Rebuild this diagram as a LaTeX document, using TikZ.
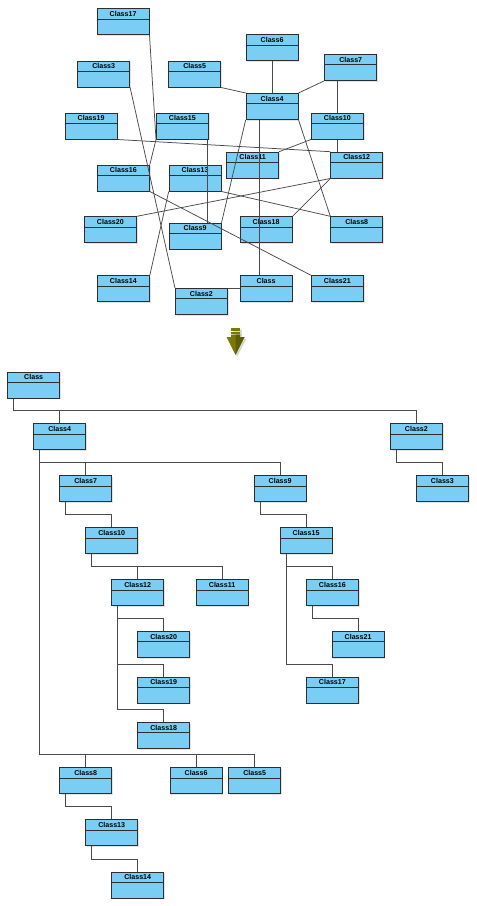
\documentclass[tikz,border=0pt]{standalone}
\usepackage{fontspec}
\setmainfont{Liberation Sans}
\usetikzlibrary{calc,shadows}
\definecolor{boxfill}{HTML}{7ACEF4}
\definecolor{boxdraw}{HTML}{2E2E2E}
\definecolor{connc}{HTML}{4A4A4A}
\definecolor{arrowc}{HTML}{7A7A00}
\definecolor{arrowdk}{HTML}{5E5E00}
\tikzset{
  clsbox/.style={draw=boxdraw, fill=boxfill, line width=0.8pt, minimum width=52pt,
    minimum height=26pt, inner sep=0pt, anchor=north west,
    drop shadow={shadow xshift=1.2pt, shadow yshift=-1.2pt, opacity=0.22}},
  clstitle/.style={font=\bfseries\fontsize{7.1}{7.5}\selectfont, inner sep=0pt, anchor=base},
  hdrline/.style={draw=boxdraw, line width=0.8pt},
  conn/.style={draw=connc, line width=0.75pt},
}
\newcommand\umlbox[4]{%
  \node[clsbox] (#1) at (#2,#3) {};
  \draw[hdrline] ([yshift=-10.6pt]#1.north west) -- ([yshift=-10.6pt]#1.north east);
  \node[clstitle] (#1t) at ([yshift=-8pt]#1.north) {#4};
}
\newcommand\treeedge[2]{%
  \draw[conn] ([xshift=6.5pt]#1.south west) |- ([yshift=12.6pt]#2.north) -- (#2.north);
}
\begin{document}
\begin{tikzpicture}[x=1pt,y=-1pt]
\useasboundingbox (0,0) rectangle (477,906);
% ---------- top: unordered graph ----------
\umlbox{g17}{96.7}{8.3}{Class17}
\umlbox{g6}{245.7}{34.3}{Class6}
\umlbox{g3}{77.3}{60.7}{Class3}
\umlbox{g5}{168.3}{60.7}{Class5}
\umlbox{g7}{324.3}{54}{Class7}
\umlbox{g4}{245.7}{93}{Class4}
\umlbox{g19}{64.7}{112.7}{Class19}
\umlbox{g15}{156}{112.7}{Class15}
\umlbox{g10}{311}{112.7}{Class10}
\umlbox{g11}{226.3}{151.7}{Class11}
\umlbox{g12}{330.3}{151.7}{Class12}
\umlbox{g16}{97}{164.7}{Class16}
\umlbox{g13}{168.7}{164.7}{Class13}
\umlbox{g20}{84}{216.3}{Class20}
\umlbox{g9}{168.7}{222.7}{Class9}
\umlbox{g18}{239.7}{216.3}{Class18}
\umlbox{g8}{330.3}{216.3}{Class8}
\umlbox{g14}{97}{275.3}{Class14}
\umlbox{g0}{239.7}{275.3}{Class}
\umlbox{g21}{311}{275.3}{Class21}
\umlbox{g2}{175}{288}{Class2}
% connectors
\draw[conn] ([xshift=13.3pt]g4.south west) -- ([xshift=19.3pt]g0.north west);
\draw[conn] (g2.north east) -- (g0.west |- g2.north);
\draw[conn] (g5.south east) -- (g4.north west);
\draw[conn] (g6.south) -- (g4.north);
\draw[conn] (g7.south west) -- (g4.north east);
\draw[conn] (g4.south west) -- (g9.north east);
\draw[conn] (g4.south east) -- (g8.north west);
\draw[conn] (g10.north |- g7.south) -- (g10.north);
\draw[conn] (g10.south) -- (g10.south |- g12.north);
\draw[conn] (g10.south west) -- (g11.north east);
\draw[conn] (g19.south east) -- (g12.north west);
\draw[conn] (g12.south west) -- (g20.north east);
\draw[conn] (g12.south west) -- (g18.north east);
\draw[conn] (g13.south east) -- (g8.north west);
\draw[conn] (g14.north east) -- (g13.south west);
\draw[conn] (g16.south east) -- (g21.north west);
\draw[conn] (g3.south east) -- (g2.north west);
\draw[conn] ([xshift=-1pt]g15.south east) -- ([xshift=-1pt]g15.south east |- g9.north);
\draw[conn] (g17.south east) -- (g15.south west);
\draw[conn] (g15.south west) -- (g16.north east);
% ---------- arrow ----------
\begin{scope}[shift={(1.8,1.8)}]
  \fill[black!16] (231,328.4) rectangle (240,330.7);
  \fill[black!16] (231,331.6) rectangle (240,333.8);
  \fill[black!16] (231,334.6) -- (240,334.6) -- (240,337) -- (244.5,337) -- (235.5,354.8) -- (226.5,337) -- (231,337) -- cycle;
\end{scope}
\node[inner sep=0pt] (arr) at (235.5,341) {};
\fill[arrowc] (231,328.4) rectangle (240,330.7);
\fill[arrowc] (231,331.6) rectangle (240,333.8);
\fill[arrowc] (231,334.6) -- (240,334.6) -- (240,337) -- (244.5,337) -- (235.5,354.8) -- (226.5,337) -- (231,337) -- cycle;
\fill[arrowdk] (235.5,334.6) -- (240,334.6) -- (240,337) -- (244.5,337) -- (235.5,354.8) -- cycle;
% ---------- bottom: tree layout ----------
\umlbox{t0}{7.3}{371.7}{Class}
\umlbox{t4}{33.3}{423.3}{Class4}
\umlbox{t2}{390}{423.3}{Class2}
\umlbox{t7}{59.3}{475.3}{Class7}
\umlbox{t9}{253.7}{475.3}{Class9}
\umlbox{t3}{416}{475.3}{Class3}
\umlbox{t10}{85.3}{527.3}{Class10}
\umlbox{t15}{279.7}{527.3}{Class15}
\umlbox{t12}{111.3}{579.3}{Class12}
\umlbox{t11}{195.7}{579.3}{Class11}
\umlbox{t16}{306}{579.3}{Class16}
\umlbox{t20}{137.3}{631}{Class20}
\umlbox{t21}{331.7}{631}{Class21}
\umlbox{t19}{137.3}{676.7}{Class19}
\umlbox{t17}{306}{676.7}{Class17}
\umlbox{t18}{137.3}{722}{Class18}
\umlbox{t8}{59.3}{767.3}{Class8}
\umlbox{t6}{169.7}{767.3}{Class6}
\umlbox{t5}{228.3}{767.3}{Class5}
\umlbox{t13}{85.3}{819.3}{Class13}
\umlbox{t14}{111.3}{871.7}{Class14}
\treeedge{t0}{t4}
\treeedge{t0}{t2}
\treeedge{t2}{t3}
\treeedge{t4}{t7}
\treeedge{t4}{t9}
\treeedge{t4}{t8}
\treeedge{t4}{t6}
\treeedge{t4}{t5}
\treeedge{t7}{t10}
\treeedge{t10}{t12}
\treeedge{t10}{t11}
\treeedge{t12}{t20}
\treeedge{t12}{t19}
\treeedge{t12}{t18}
\treeedge{t9}{t15}
\treeedge{t15}{t16}
\treeedge{t15}{t17}
\treeedge{t16}{t21}
\treeedge{t8}{t13}
\treeedge{t13}{t14}
\end{tikzpicture}
\end{document}
